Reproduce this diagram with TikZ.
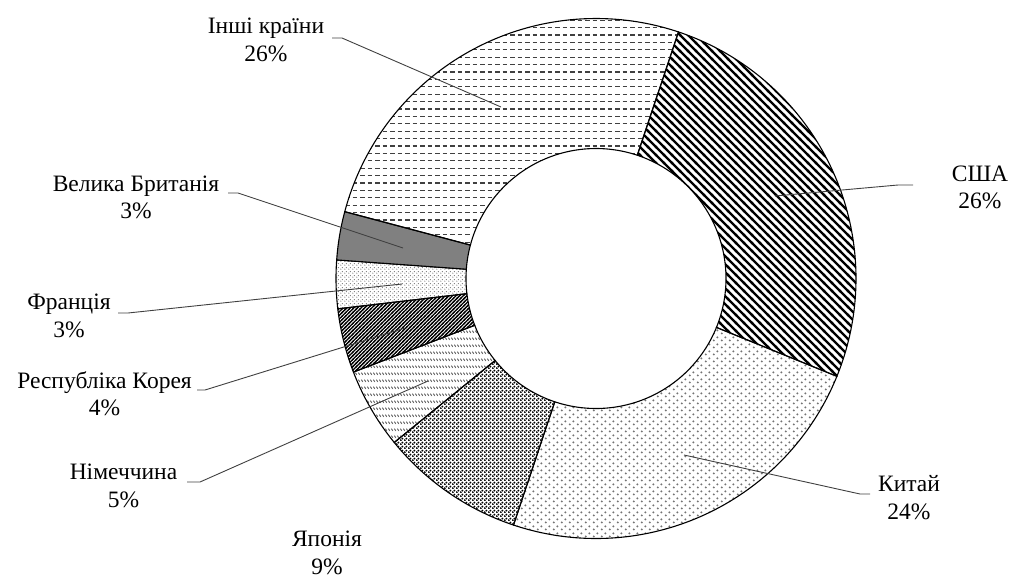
\documentclass[tikz,border=0pt]{standalone}
\usepackage{fontspec}
\setmainfont{Liberation Serif}
\usetikzlibrary{patterns}

% dashed horizontal (Others)
\pgfdeclarepatternformonly{hdashpat}{\pgfqpoint{-0.5pt}{-0.5pt}}{\pgfqpoint{8pt}{8pt}}{\pgfqpoint{7.5pt}{7.4pt}}{%
  \pgfsetlinewidth{1.2pt}\pgfpathmoveto{\pgfqpoint{0pt}{3.7pt}}\pgfpathlineto{\pgfqpoint{4.5pt}{3.7pt}}\pgfusepath{stroke}}
% wide downward diagonal (USA)
\pgfdeclarepatternformonly{wdiagpat}{\pgfqpoint{-1.5pt}{-1.5pt}}{\pgfqpoint{9.6pt}{9.6pt}}{\pgfqpoint{8pt}{8pt}}{%
  \pgfsetlinewidth{2.3pt}\pgfpathmoveto{\pgfqpoint{-1pt}{9pt}}\pgfpathlineto{\pgfqpoint{9pt}{-1pt}}\pgfusepath{stroke}}
% light marks (China)
\pgfdeclarepatternformonly{cdotpat}{\pgfqpoint{0pt}{0pt}}{\pgfqpoint{8pt}{7pt}}{\pgfqpoint{8pt}{7pt}}{%
  \pgfpathcircle{\pgfqpoint{2pt}{1.75pt}}{1.2pt}\pgfpathcircle{\pgfqpoint{6pt}{5.25pt}}{1.2pt}\pgfusepath{fill}}
% dense dots (Japan)
\pgfdeclarepatternformonly{jdotpat}{\pgfqpoint{0pt}{0pt}}{\pgfqpoint{3.6pt}{3.6pt}}{\pgfqpoint{3.6pt}{3.6pt}}{%
  \pgfpathcircle{\pgfqpoint{0.9pt}{0.9pt}}{1.15pt}\pgfpathcircle{\pgfqpoint{2.7pt}{2.7pt}}{1.15pt}\pgfusepath{fill}}
% dashed downward diagonal (Germany)
\pgfdeclarepatternformonly{gdashpat}{\pgfqpoint{0pt}{0pt}}{\pgfqpoint{3.2pt}{7pt}}{\pgfqpoint{3.2pt}{7pt}}{%
  \pgfsetlinewidth{1.05pt}\pgfpathmoveto{\pgfqpoint{0.4pt}{4.9pt}}\pgfpathlineto{\pgfqpoint{2.3pt}{2.5pt}}\pgfusepath{stroke}}
% dark upward diagonal (Korea)
\pgfdeclarepatternformonly{kdiagpat}{\pgfqpoint{-1pt}{-1pt}}{\pgfqpoint{4.6pt}{4.6pt}}{\pgfqpoint{3.6pt}{3.6pt}}{%
  \pgfsetlinewidth{1.3pt}\pgfpathmoveto{\pgfqpoint{-1pt}{-1pt}}\pgfpathlineto{\pgfqpoint{4.6pt}{4.6pt}}\pgfusepath{stroke}}
% small dots (France)
\pgfdeclarepatternformonly{fdotpat}{\pgfqpoint{0pt}{0pt}}{\pgfqpoint{3.5pt}{3.5pt}}{\pgfqpoint{3.5pt}{3.5pt}}{%
  \pgfpathcircle{\pgfqpoint{0.9pt}{0.9pt}}{0.6pt}\pgfpathcircle{\pgfqpoint{2.65pt}{2.65pt}}{0.6pt}\pgfusepath{fill}}

\newcommand\donutseg[3]{%
  \path[#3] plot[domain=#1:#2,samples=90] ({596+260*sin(\x)},{278.5-260*cos(\x)})
    -- plot[domain=#2:#1,samples=60] ({596+130*sin(\x)},{278.5-130*cos(\x)}) -- cycle;}

\begin{document}
\begin{tikzpicture}[x=1pt,y=-1pt,
  segline/.style={draw=black,line width=1.1pt},
  leader/.style={draw=black!75,line width=0.9pt},
  lab/.style={align=center,inner sep=0pt,font=\fontsize{23.5}{27.5}\selectfont}]
\useasboundingbox (0,0) rectangle (1011,579);

% segments
\donutseg{18.5}{112.1}{segline,pattern=wdiagpat,pattern color=black}
\donutseg{112.1}{198.5}{segline,pattern=cdotpat,pattern color=black!55}
\donutseg{198.5}{230.9}{segline,pattern=jdotpat,pattern color=black}
\donutseg{230.9}{248.9}{segline,pattern=gdashpat,pattern color=black!65}
\donutseg{248.9}{263.3}{segline,pattern=kdiagpat,pattern color=black}
\donutseg{263.3}{274.1}{segline,pattern=fdotpat,pattern color=black!65}
\donutseg{274.1}{284.9}{segline,fill=black!50}
\donutseg{284.9}{378.5}{segline,pattern=hdashpat,pattern color=black!75}

% labels
\node[lab] (othlab) at (266,40) {Інші країни\\26\%};
\node[lab] (usalab) at (980,187.5) {США\\26\%};
\node[lab] (chnlab) at (909,497.5) {Китай\\24\%};
\node[lab] (jpnlab) at (327,553) {Японія\\9\%};
\node[lab] (deulab) at (123.5,486) {Німеччина\\5\%};
\node[lab] (korlab) at (104.5,393.5) {Республіка Корея\\4\%};
\node[lab] (fralab) at (69,316) {Франція\\3\%};
\node[lab] (gbrlab) at (136,197.5) {Велика Британія\\3\%};

% leader coordinates
\coordinate (othin) at (501,107); \coordinate (othel) at (342,38); \coordinate (othend) at (332,38);
\coordinate (usain) at (775,196); \coordinate (usael) at (898,185); \coordinate (usaend) at (913,185);
\coordinate (chnin) at (684,455); \coordinate (chnel) at (860,494); \coordinate (chnend) at (870,494);
\coordinate (deuin) at (428,381); \coordinate (deuel) at (200,482); \coordinate (deuend) at (187,482);
\coordinate (korin) at (405,328); \coordinate (korel) at (205,390); \coordinate (korend) at (197,390);
\coordinate (frain) at (402,284); \coordinate (frael) at (128,313); \coordinate (fraend) at (118,313);
\coordinate (gbrin) at (403,248); \coordinate (gbrel) at (238,193); \coordinate (gbrend) at (228,193);

\draw[leader] (othin) -- (othel) -- (othend);
\draw[leader] (usain) -- (usael) -- (usaend);
\draw[leader] (chnin) -- (chnel) -- (chnend);
\draw[leader] (deuin) -- (deuel) -- (deuend);
\draw[leader] (korin) -- (korel) -- (korend);
\draw[leader] (frain) -- (frael) -- (fraend);
\draw[leader] (gbrin) -- (gbrel) -- (gbrend);
\end{tikzpicture}
\end{document}
